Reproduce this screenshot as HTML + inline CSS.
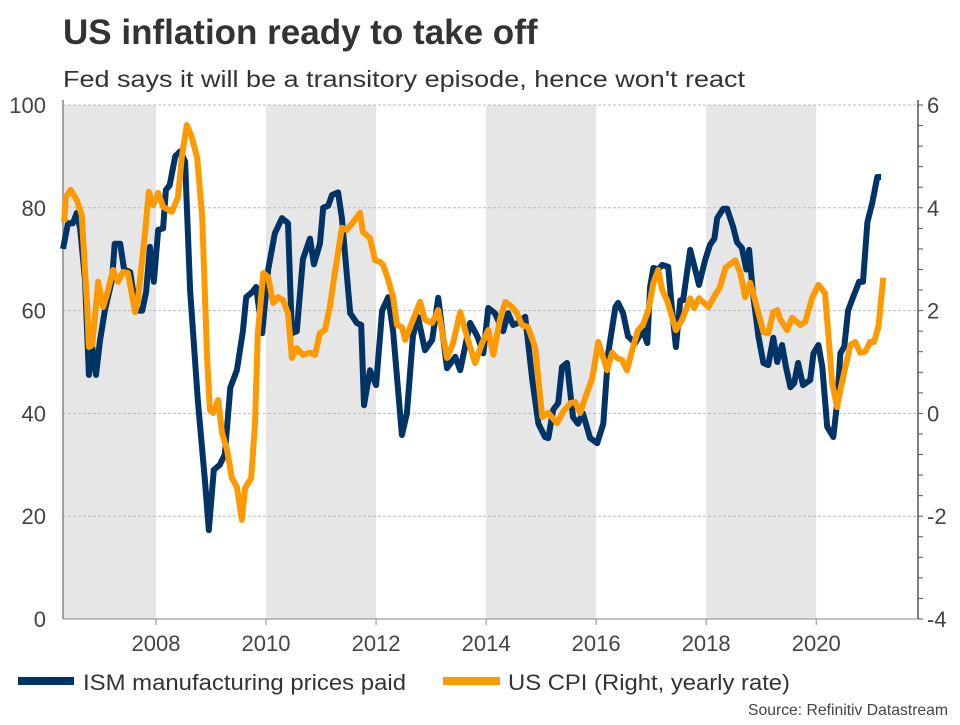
<!DOCTYPE html>
<html><head><meta charset="utf-8"><style>
body{margin:0;background:#fff;}
svg text{font-family:"Liberation Sans",sans-serif;}
</style></head><body>
<svg id="chart" width="960" height="720" viewBox="0 0 960 720" xmlns="http://www.w3.org/2000/svg">
<text x="63" y="44" font-size="35" font-weight="bold" fill="#333">US inflation ready to take off</text>
<text x="63" y="87" font-size="23" fill="#333" textLength="682" lengthAdjust="spacingAndGlyphs">Fed says it will be a transitory episode, hence won't react</text>
<g id="bands"></g><g id="grid"></g><g id="axes"></g><g id="series"></g>
<g>
<rect x="18" y="677" width="56" height="8" fill="#003366"/>
<text x="83" y="690" font-size="22" fill="#333" textLength="323" lengthAdjust="spacingAndGlyphs">ISM manufacturing prices paid</text>
<rect x="443" y="677" width="57" height="8" fill="#ff9900"/>
<text x="508" y="690" font-size="22" fill="#333" textLength="282" lengthAdjust="spacingAndGlyphs">US CPI (Right, yearly rate)</text>
</g>
<text x="948" y="715" font-size="16" fill="#444" text-anchor="end" textLength="200" lengthAdjust="spacingAndGlyphs">Source: Refinitiv Datastream</text>
</svg>
<script>
const ismDates=[2006.31,2006.40,2006.49,2006.56,2006.62,2006.71,2006.78,2006.84,2006.91,2006.98,2007.07,2007.20,2007.25,2007.35,2007.42,2007.53,2007.64,2007.75,2007.82,2007.89,2007.96,2008.04,2008.13,2008.18,2008.25,2008.35,2008.44,2008.53,2008.62,2008.76,2008.89,2008.96,2009.05,2009.16,2009.25,2009.35,2009.47,2009.58,2009.64,2009.75,2009.82,2009.93,2010.04,2010.16,2010.29,2010.40,2010.47,2010.56,2010.67,2010.80,2010.87,2010.98,2011.04,2011.13,2011.20,2011.31,2011.38,2011.53,2011.65,2011.73,2011.78,2011.89,2012.00,2012.11,2012.22,2012.31,2012.47,2012.56,2012.67,2012.76,2012.89,2013.02,2013.13,2013.29,2013.44,2013.53,2013.71,2013.84,2013.95,2014.04,2014.16,2014.31,2014.40,2014.49,2014.58,2014.71,2014.84,2014.95,2015.07,2015.13,2015.22,2015.31,2015.38,2015.47,2015.58,2015.67,2015.76,2015.89,2016.02,2016.13,2016.22,2016.35,2016.40,2016.49,2016.58,2016.71,2016.85,2016.93,2016.98,2017.04,2017.13,2017.20,2017.31,2017.38,2017.45,2017.53,2017.58,2017.71,2017.80,2017.87,2017.98,2018.07,2018.15,2018.20,2018.31,2018.38,2018.49,2018.56,2018.65,2018.73,2018.78,2018.85,2018.95,2019.04,2019.13,2019.22,2019.29,2019.38,2019.45,2019.53,2019.60,2019.67,2019.76,2019.89,2019.95,2020.04,2020.11,2020.20,2020.31,2020.38,2020.44,2020.51,2020.58,2020.67,2020.78,2020.85,2020.93,2021.02,2021.11,2021.18];
const ismValues=[72,77,77,79,76,66,47.5,53,47.5,54,60,66,73,73,68,67.5,60,60,63.6,72.4,65.6,75.7,76,83.5,84.4,90,91,89,64,42.6,27,17.3,29,30,32,45,48.4,56,62.6,63.6,64.6,55.6,68,75,78,77,55.6,56,70,74,69,73,80,80.4,82.5,83,78,59.5,57.6,57.2,41.6,48.4,45.5,60,62.6,56,35.8,40,55,58.8,52.3,54.3,62.5,48.8,51,48.4,57.6,55,51.7,60.5,59.5,56,59.5,57.2,57.6,58.8,46.5,38,35.4,35.2,40.7,42,49,49.8,39.3,38,40,35.2,34.2,38,51.7,60.7,61.5,59.5,55,53.7,56.2,53.7,64.6,68.3,68,68.9,68.5,60,52.9,62,62,71.8,68,65,69.8,72.8,74,78,79.8,79.8,76.3,73.3,72.2,68,71.8,63.4,55,49.8,49.4,54.7,50,53.3,49,45.1,45.9,49.8,45.5,46.5,51.7,53.3,49,37.4,35.4,42,51.7,53,60,62.6,65.6,65.6,77.2,81,86,86];
const cpiDates=[2006.33,2006.36,2006.45,2006.56,2006.65,2006.75,2006.78,2006.84,2006.95,2007.04,2007.13,2007.22,2007.31,2007.40,2007.49,2007.62,2007.67,2007.80,2007.87,2007.95,2008.04,2008.13,2008.29,2008.40,2008.47,2008.56,2008.65,2008.75,2008.84,2008.93,2008.98,2009.04,2009.13,2009.20,2009.29,2009.38,2009.47,2009.56,2009.62,2009.73,2009.80,2009.85,2009.95,2010.04,2010.13,2010.22,2010.31,2010.40,2010.47,2010.56,2010.67,2010.80,2010.89,2010.98,2011.07,2011.16,2011.25,2011.38,2011.47,2011.58,2011.71,2011.76,2011.89,2011.98,2012.07,2012.13,2012.22,2012.31,2012.38,2012.47,2012.53,2012.65,2012.80,2012.89,2013.02,2013.13,2013.29,2013.40,2013.53,2013.67,2013.80,2013.93,2014.04,2014.13,2014.25,2014.35,2014.47,2014.56,2014.65,2014.76,2014.89,2015.02,2015.13,2015.29,2015.40,2015.53,2015.62,2015.71,2015.80,2015.93,2016.04,2016.20,2016.29,2016.38,2016.47,2016.56,2016.67,2016.76,2016.85,2016.95,2017.04,2017.13,2017.20,2017.29,2017.45,2017.56,2017.71,2017.78,2017.87,2018.04,2018.16,2018.25,2018.35,2018.53,2018.62,2018.71,2018.80,2018.89,2019.04,2019.13,2019.22,2019.29,2019.35,2019.47,2019.56,2019.71,2019.80,2019.93,2020.04,2020.16,2020.29,2020.38,2020.44,2020.53,2020.62,2020.71,2020.80,2020.89,2020.98,2021.05,2021.13,2021.22];
const cpiValues=[3.72,4.21,4.35,4.15,3.86,2.07,1.29,1.33,2.56,2.07,2.4,2.79,2.56,2.75,2.73,1.97,2.2,3.51,4.31,4.05,4.29,4.02,3.92,4.21,4.99,5.61,5.38,4.97,3.82,1.04,0.07,0.01,0.26,-0.38,-0.71,-1.26,-1.43,-2.07,-1.45,-1.26,-0.19,1.56,2.73,2.65,2.15,2.26,2.2,1.95,1.08,1.27,1.14,1.18,1.14,1.56,1.62,2.07,2.73,3.61,3.57,3.72,3.9,3.53,3.41,2.98,2.95,2.89,2.6,2.26,1.72,1.68,1.43,1.76,2.17,1.82,1.76,2.01,1.08,1.37,1.97,1.43,0.98,1.37,1.62,1.14,1.82,2.17,2.07,1.95,1.72,1.68,1.29,-0.07,0.01,-0.19,0.03,0.2,0.22,0.01,0.3,0.69,1.39,0.84,1.18,1.08,1.04,0.84,1.29,1.62,1.72,2.01,2.54,2.79,2.4,2.2,1.62,1.82,2.24,2.05,2.24,2.07,2.3,2.46,2.83,2.98,2.73,2.26,2.54,2.2,1.58,1.56,1.97,2.01,1.82,1.62,1.86,1.72,1.78,2.26,2.5,2.34,0.59,0.12,0.46,0.9,1.33,1.39,1.18,1.2,1.39,1.39,1.68,2.64];
const leftTicks=[0,20,40,60,80,100];
const rightTicks=[-4,-2,0,2,4,6];
const yearTicks=[2008,2010,2012,2014,2016,2018,2020];
const shadeStarts=[2006,2010,2014,2018];
const shadeEnds=[2008,2012,2016,2020];

const NS="http://www.w3.org/2000/svg";
const PL=63,PR=918,PT=105,PB=619;
const xDomain=[2006.31,2021.85];
const X=d=>PL+(d-xDomain[0])/(xDomain[1]-xDomain[0])*(PR-PL);
const YL=v=>PB-(v-0)/(100-0)*(PB-PT);
const YR=v=>PB-(v+4)/(6+4)*(PB-PT);
function mk(tag,attrs,parent){const e=document.createElementNS(NS,tag);for(const k in attrs)e.setAttribute(k,attrs[k]);parent.appendChild(e);return e;}
const bands=document.getElementById('bands'),grid=document.getElementById('grid'),axes=document.getElementById('axes'),series=document.getElementById('series');

shadeStarts.forEach((s,i)=>{
  const x0=Math.max(X(s),PL),x1=X(shadeEnds[i]);
  const r=mk('rect',{x:x0,y:PT,width:x1-x0,height:PB-PT,fill:'#e6e6e6'},bands);
  
  
});
leftTicks.forEach(v=>{
  const y=YL(v);
  if(v>0){const g=mk('line',{x1:PL,x2:PR,y1:y,y2:y,stroke:'#bbb','stroke-dasharray':'3,2','stroke-width':1},grid);
  
  }
  const t=mk('text',{x:46,y:y+8,'font-size':22,fill:'#444','text-anchor':'end'},axes);
  t.textContent=v;
  
  
});
rightTicks.forEach(v=>{
  const y=YR(v);
  const t=mk('text',{x:927,y:y+8,'font-size':22,fill:'#444'},axes);
  t.textContent=v;
  
  
});
for(let v=-4;v<=6.001;v+=0.4){const y=YR(v);mk('line',{x1:PR,x2:PR+5,y1:y,y2:y,stroke:'#555','stroke-width':1},axes);}
yearTicks.forEach(yr=>{
  const x=X(yr);
  mk('line',{x1:x,x2:x,y1:PB,y2:PB+6,stroke:'#888','stroke-width':1},axes);
  const t=mk('text',{x:x,y:651,'font-size':22,fill:'#444','text-anchor':'middle'},axes);
  t.textContent=yr;
  
  
});
const la=mk('line',{x1:PL,x2:PL,y1:PT-5,y2:PB,stroke:'#888','stroke-width':1.5},axes);


const ra=mk('line',{x1:PR,x2:PR,y1:PT-5,y2:PB,stroke:'#555','stroke-width':1.5},axes);


const ba=mk('line',{x1:PL,x2:PR,y1:PB,y2:PB,stroke:'#888','stroke-width':1},axes);



const ismPts=ismDates.map((d,i)=>X(d).toFixed(1)+','+YL(ismValues[i]).toFixed(1)).join(' ');
const ism=mk('polyline',{points:ismPts,fill:'none',stroke:'#003366','stroke-width':6,'stroke-linejoin':'round'},series);


const cpiPts=cpiDates.map((d,i)=>X(d).toFixed(1)+','+YR(cpiValues[i]).toFixed(1)).join(' ');
const cpi=mk('polyline',{points:cpiPts,fill:'none',stroke:'#ff9900','stroke-width':6,'stroke-linejoin':'round'},series);


</script>
</body></html>
